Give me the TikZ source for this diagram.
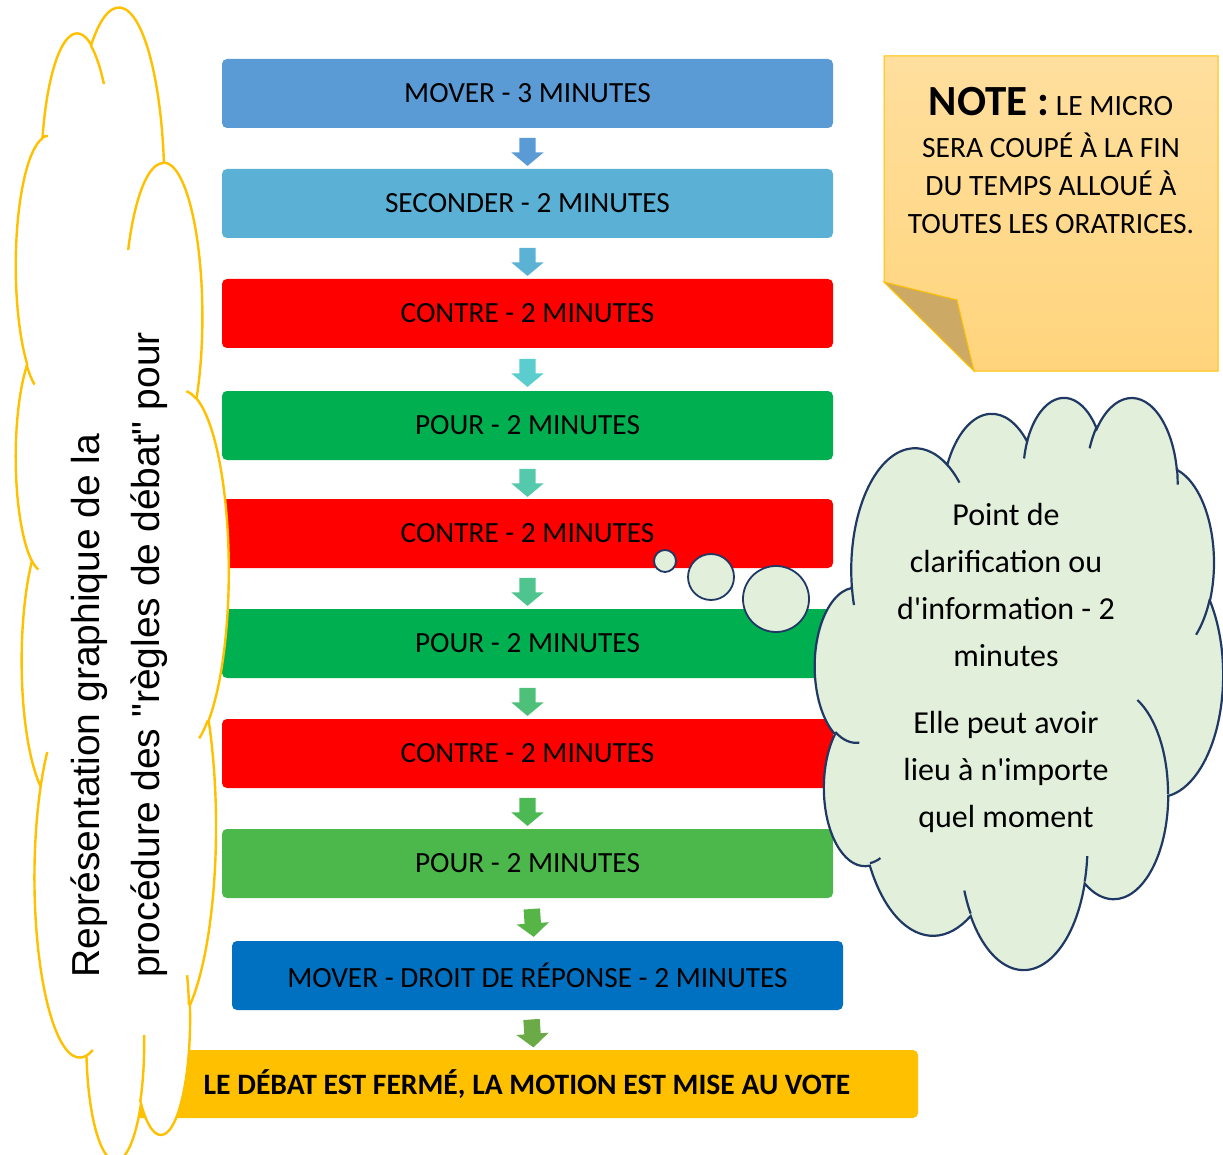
\documentclass[tikz,border=0pt]{standalone}
\usepackage{fontspec}
\newfontfamily\carlito{Carlito}
\newfontfamily\arialfont{Liberation Sans}
\usetikzlibrary{calc,shapes.arrows}

\definecolor{mover}{HTML}{5B9BD5}
\definecolor{seconder}{HTML}{5BB0D5}
\definecolor{contre}{HTML}{FF0000}
\definecolor{pour}{HTML}{00B050}
\definecolor{pourclair}{HTML}{4CB84C}
\definecolor{droit}{HTML}{0070C0}
\definecolor{vote}{HTML}{FFC000}
\definecolor{nuage}{HTML}{E2EFDA}
\definecolor{nuagetrait}{HTML}{1F3864}
\definecolor{notehaut}{HTML}{FFDF9E}
\definecolor{notebas}{HTML}{FFD47C}
\definecolor{notepli}{HTML}{CCAA66}
\definecolor{flA}{HTML}{5B9BD5}
\definecolor{flB}{HTML}{5BB2D5}
\definecolor{flC}{HTML}{5BCDCE}
\definecolor{flD}{HTML}{55C9AC}
\definecolor{flE}{HTML}{50C48E}
\definecolor{flF}{HTML}{4FC07A}
\definecolor{flG}{HTML}{4DB955}
\definecolor{flH}{HTML}{57B548}
\definecolor{flI}{HTML}{6AAB47}

\tikzset{etape/.style={rectangle, rounded corners=5pt,
         minimum width=611pt, minimum height=69pt, inner sep=0pt,
         font=\carlito\fontsize{29.3}{35}\selectfont},
         fleche/.style={single arrow, rotate=#1, draw=none,
         minimum height=28pt, inner xsep=0pt, inner ysep=8pt,
         single arrow head extend=8pt, single arrow tip angle=100},
         fleche/.default={-90},
         bulle/.style={circle, fill=nuage, draw=nuagetrait,
         line width=1.8pt, inner sep=0pt}}

% arc of an office cloud: x radius, y radius, start and sweep (visual angles)
\newcommand\nuagearc[4]{%
  \pgfextra{%
    \pgfmathsetmacro\nuageta{atan2((#1)*sin(#3),(#2)*cos(#3))}%
    \pgfmathsetmacro\nuagetb{atan2((#1)*sin((#3)+(#4)),(#2)*cos((#3)+(#4)))}%
    \pgfmathsetmacro\nuagedt{mod((\nuagetb)-(\nuageta)+720,360)}%
    \global\let\nuageta\nuageta\global\let\nuagedt\nuagedt}%
  arc[x radius=#1, y radius=#2, start angle=\nuageta, delta angle=\nuagedt]}

\newcommand\contournuage{%
  (39.00,143.70) \nuagearc{67.53}{91.90}{-190.48748}{123.78053}
  \nuagearc{53.33}{72.67}{-144.10238}{89.94523}
  \nuagearc{43.65}{59.45}{-145.80792}{99.72302}
  \nuagearc{48.57}{65.95}{-130.98607}{117.24173}
  \nuagearc{53.33}{72.73}{-78.70888}{109.02692}
  \nuagearc{67.75}{92.20}{-46.26725}{130.26900}
  \nuagearc{57.85}{78.67}{0.62502}{114.03333}
  \nuagearc{67.52}{92.15}{22.45160}{115.17255}
  \nuagearc{77.20}{105.43}{66.24263}{75.71102}
  \nuagearc{43.60}{59.18}{-274.94208}{146.73557}
  \nuagearc{43.45}{59.45}{-246.82850}{152.51885} -- cycle}

\newcommand\plisnuage{%
  (46.93,261.77) \nuagearc{43.45}{59.45}{86.74200}{26.42950}
  (69.28,348.99) \nuagearc{43.60}{59.18}{73.61047}{11.44747}
  (164.78,390.90) \nuagearc{67.52}{92.15}{137.62415}{14.08110}
  (288.27,347.51) \nuagearc{67.52}{92.15}{6.45327}{15.99835}
  (341.29,229.54) \nuagearc{57.85}{78.67}{-70.29235}{70.91737}
  (417.98,153.54) \nuagearc{53.33}{72.73}{30.31803}{27.75150}
  (383.24,54.26) \nuagearc{48.57}{65.95}{-13.74433}{14.85890}
  (290.78,39.52) \nuagearc{48.57}{65.95}{-149.18145}{18.19537}
  (221.41,47.20) \nuagearc{43.65}{59.45}{-163.49427}{17.68635}
  (140.00,51.92) \nuagearc{67.53}{91.90}{-66.70695}{12.31935}
  (41.27,157.89) \nuagearc{67.53}{91.90}{157.65435}{11.85817}}

\begin{document}
\begin{tikzpicture}[x=1pt, y=-1pt]
  \useasboundingbox (0,0) rectangle (1223,1155);
  % the steps of the debate
  \foreach \n/\x/\y/\c/\t in {m1/527.5/93.5/mover/MOVER - 3 MINUTES,
      m2/527.5/203.5/seconder/SECONDER - 2 MINUTES,
      m3/527.5/313.5/contre/CONTRE - 2 MINUTES,
      m4/527.5/425.5/pour/POUR - 2 MINUTES,
      m5/527.5/533.5/contre/CONTRE - 2 MINUTES,
      m6/527.5/643.5/pour/POUR - 2 MINUTES,
      m7/527.5/753.5/contre/CONTRE - 2 MINUTES,
      m8/527.5/863.5/pourclair/POUR - 2 MINUTES,
      m9/537.5/975.5/droit/MOVER - DROIT DE RÉPONSE - 2 MINUTES}
    \node[etape, fill=\c] (\n) at (\x,\y) {\t};
  \node[etape, fill=vote, minimum width=782pt, minimum height=68pt,
        font=\carlito\bfseries\fontsize{29.6}{35}\selectfont] (fin) at (527,1084)
        {LE DÉBAT EST FERMÉ, LA MOTION EST MISE AU VOTE};
  \foreach \a/\b/\c/\r in {m1/m2/flA/-90, m2/m3/flB/-90, m3/m4/flC/-90,
      m4/m5/flD/-90, m5/m6/flE/-90, m6/m7/flF/-90, m7/m8/flG/-90,
      m8/m9/flH/-86, m9/fin/flI/-86}
    \node[fleche=\r, fill=\c] (f\a) at ($(\a.south)!.5!(\b.north)$) {};

  % left cloud, turned on its side
  \begin{scope}[shift={(15,1160)}, x={(0pt,2.6667pt)}, y={(0.4931pt,0pt)}]
    \draw[fill=white, draw=vote, line width=2.4pt] \contournuage;
    \draw[draw=vote, line width=2.4pt] \plisnuage;
  \end{scope}
  \node[rotate=90, anchor=north west, align=left, inner sep=0pt,
        font=\arialfont\fontsize{39}{60}\selectfont] (titre) at (70.5,978)
        {Représentation graphique de la\\procédure des "règles de débat" pour};

  % thought bubbles and cloud
  \node[bulle, minimum size=22pt] (b1) at (665,561) {};
  \node[bulle, minimum size=46pt] (b2) at (711,577) {};
  \node[bulle, minimum size=66pt] (b3) at (776,599) {};
  \begin{scope}[shift={(815,396)}, x={(0.9444pt,0pt)}, y={(0pt,-1.3241pt)}]
    \draw[fill=nuage, draw=nuagetrait, line width=2.2pt] \contournuage;
    \draw[draw=nuagetrait, line width=2.2pt] \plisnuage;
  \end{scope}
  \node[align=center, anchor=north, inner sep=0pt,
        font=\carlito\fontsize{32}{47}\selectfont] (bulletexte) at (1006,503)
        {Point de\\clarification ou\\d'information - 2\\minutes\\[20pt]Elle peut avoir\\lieu à n'importe\\quel moment};

  % sticky note
  \path[draw=vote, line width=1pt, top color=notehaut, bottom color=notebas]
    (884,56) -- (1218,56) -- (1218,371) -- (974,371) -- (884,282) -- cycle;
  \filldraw[fill=notepli, draw=vote, line width=1pt]
    (884,282) -- (957,300) -- (974,371) -- cycle;
  \node[align=center, anchor=north, inner sep=0pt,
        font=\carlito\fontsize{29.5}{38}\selectfont] (notetexte) at (1051,87)
        {{\fontsize{43}{43}\selectfont\bfseries NOTE :} LE MICRO\\[4pt]SERA COUPÉ À LA FIN\\DU TEMPS ALLOUÉ À\\TOUTES LES ORATRICES.};
\end{tikzpicture}
\end{document}
